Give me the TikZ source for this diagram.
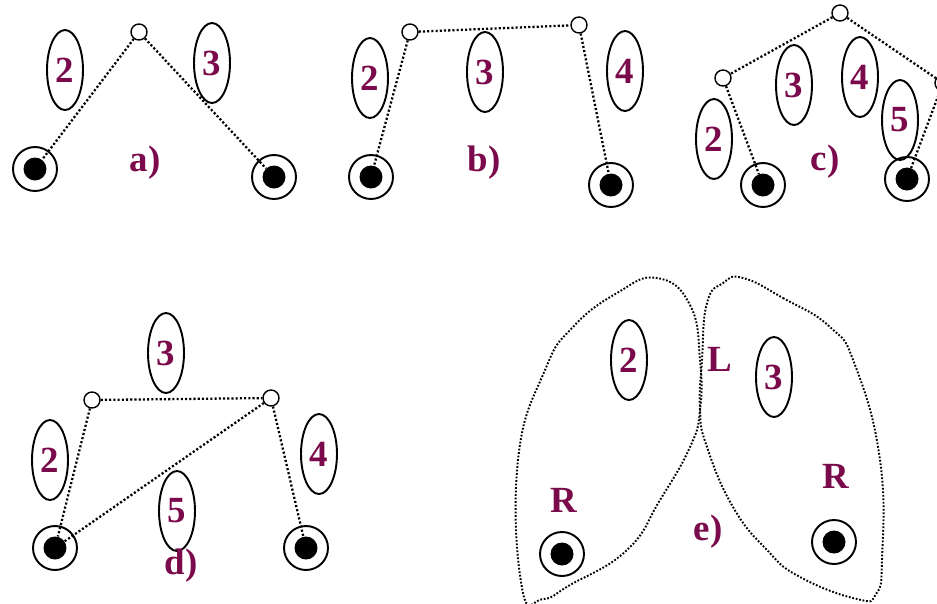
\documentclass[tikz,border=0pt]{standalone}
\usepackage{fontspec}
\setmainfont{Liberation Serif}
\usepackage{tikz}
\usetikzlibrary{shapes.geometric}
\definecolor{plum}{HTML}{7A0A4B}

\begin{document}
\begin{tikzpicture}[x=0.02cm, y=-0.02cm,
        lbl/.style={text=plum, font=\fontsize{21}{21}\selectfont\bfseries, inner sep=0pt},
        cell/.style={draw, ellipse, line width=1.1pt, minimum width=0.72cm,
                     minimum height=1.6cm, inner sep=0pt, lbl},
        hub/.style={draw, circle, line width=0.8pt, minimum size=0.32cm, inner sep=0pt},
        term/.style={draw, circle, line width=1.1pt, minimum size=0.88cm, inner sep=0pt},
        core/.style={fill, circle, minimum size=0.46cm, inner sep=0pt},
        link/.style={line width=1.3pt, dash pattern=on 1.2pt off 1.2pt},
        rim/.style={line width=1.1pt, dash pattern=on 1pt off 1pt}
      ]
      \useasboundingbox (0,0) rectangle (937,603);
      \clip (0,0) rectangle (937,603);

      % terminals
      \foreach \n/\p in {aL/{35,169}, aR/{274,177}, bL/{371,177}, bR/{611,185},
                         cL/{763,185}, cR/{907,179}, dL/{55,548}, dR/{306,548},
                         eL/{562,554}, eR/{834,542}} {
        \node[term] (\n) at (\p) {};
        \node[core] (\n c) at (\p) {};
      }

      % a)
      \node[hub] (aT) at (139,32) {};
      \node[cell] (a2) at (65,70) {2};
      \node[cell] (a3) at (212,63) {3};
      \node[lbl] (aLab) at (145,163) {a)};
      \draw[link] (aT) -- (aLc);
      \draw[link] (aT) -- (aRc);

      % b)
      \node[hub] (bA) at (410,32) {};
      \node[hub] (bB) at (579,25) {};
      \node[cell] (b2) at (370,78) {2};
      \node[cell] (b3) at (485,72) {3};
      \node[cell] (b4) at (625,71) {4};
      \node[lbl] (bLab) at (484,163) {b)};
      \draw[link] (bA) -- (bB);
      \draw[link] (bA) -- (bLc);
      \draw[link] (bB) -- (bRc);

      % c)
      \node[hub] (cT) at (840,13) {};
      \node[hub] (cA) at (723,78) {};
      \node[hub] (cB) at (943,83) {};
      \node[cell] (c2) at (714,139) {2};
      \node[cell] (c3) at (794,85) {3};
      \node[cell] (c4) at (860,77) {4};
      \node[cell] (c5) at (900,120) {5};
      \node[lbl] (cLab) at (825,162) {c)};
      \draw[link] (cT) -- (cA);
      \draw[link] (cT) -- (cB);
      \draw[link] (cA) -- (cLc);
      \draw[link] (cB) -- (cRc);

      % d)
      \node[hub] (dA) at (92,400) {};
      \node[hub] (dB) at (271,398) {};
      \node[cell] (d3) at (166,353) {3};
      \node[cell] (d2) at (50,460) {2};
      \node[cell] (d4) at (319,454) {4};
      \node[cell] (d5) at (177,511) {5};
      \node[lbl] (dLab) at (181,566) {d)};
      \draw[link] (dA) -- (dB);
      \draw[link] (dA) -- (dLc);
      \draw[link] (dB) -- (dLc);
      \draw[link] (dB) -- (dRc);

      % e)
      \draw[rim] plot[smooth cycle, tension=0.8] coordinates {
        (657,278) (690,305) (700,360) (700,410) (690,447) (660,500) (627,550)
        (570,585) (543,599) (522,588) (518,460) (545,370) (573,327) (617,293)};
      \draw[rim] plot[smooth cycle, tension=0.8] coordinates {
        (743,278) (783,298) (830,327) (855,365) (880,460) (882,560) (876,594)
        (857,599) (800,577) (767,550) (733,507) (707,447) (700,410) (702,360)
        (707,303) (723,283)};
      \node[cell] (e2) at (629,360) {2};
      \node[cell] (e3) at (774,377) {3};
      \node[lbl] (eL1) at (720,359) {L};
      \node[lbl] (eR1) at (564,500) {R};
      \node[lbl] (eR2) at (836,476) {R};
      \node[lbl] (eLab) at (708,532) {e)};
\end{tikzpicture}
\end{document}
